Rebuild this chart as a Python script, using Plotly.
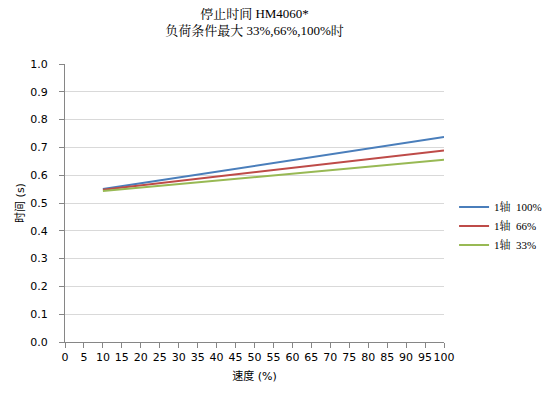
import plotly.graph_objects as go

speed = [10, 100]
s100 = [0.550, 0.737]
s66 = [0.548, 0.689]
s33 = [0.543, 0.656]
names = ["1轴  100%", "1轴  66%", "1轴  33%"]
colors = ["#4a7ebb", "#be4b48", "#98b954"]
x_ticks = list(range(0, 101, 5))
y_ticks = [round(i * 0.1, 1) for i in range(11)]

serif = "Liberation Serif, Noto Serif CJK SC, Noto Sans CJK SC, serif"
sans = "DejaVu Sans, Verdana, Noto Sans CJK SC, sans-serif"

fig = go.Figure()
for ys, nm, c in zip([s100, s66, s33], names, colors):
    fig.add_trace(go.Scatter(x=speed, y=ys, mode="lines", name=nm,
                             line=dict(color=c, width=2)))

fig.update_layout(
    width=542, height=388,
    margin=dict(l=57, r=106, t=56, b=54),
    paper_bgcolor="white", plot_bgcolor="white",
    title=dict(text="停止时间 HM4060*<br>负荷条件最大 33%,66%,100%时",
               x=0.5, xanchor="center", xref="paper", y=0.975, yanchor="top", yref="container",
               pad=dict(t=0, b=0),
               font=dict(family=serif, size=13, color="#000")),
    legend=dict(x=0.823, y=0.438, xanchor="left", yanchor="middle",
                xref="container", yref="container",
                font=dict(family=serif, size=11, color="#000"),
                itemwidth=30),
    xaxis=dict(range=[0, 100], tickvals=x_ticks, ticktext=[str(v) for v in x_ticks],
               tickangle=0, automargin=False,
               showgrid=False, showline=True, linecolor="#868686", linewidth=1,
               ticks="outside", ticklen=5, tickcolor="#868686",
               tickfont=dict(family=sans, size=11, color="#000"),
               title=dict(text="速度 (%)", font=dict(family=sans, size=11, color="#000"), standoff=9),
               zeroline=False),
    yaxis=dict(range=[0, 1.0], tickvals=y_ticks, ticktext=[f"{v:.1f}" for v in y_ticks],
               automargin=False, ticklabelstandoff=9,
               showgrid=True, gridcolor="#d9d9d9", gridwidth=1,
               showline=True, linecolor="#868686", linewidth=1,
               ticks="outside", ticklen=5, tickcolor="#868686",
               tickfont=dict(family=sans, size=11, color="#000"),
               title=dict(text="时间 (s)", font=dict(family=sans, size=11, color="#000"), standoff=3),
               zeroline=False),
)
fig.write_html("out.html")
